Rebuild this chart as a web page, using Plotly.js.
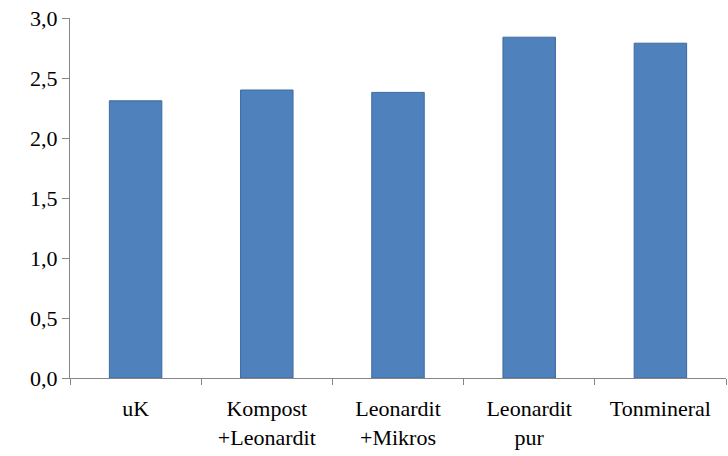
<!DOCTYPE html>
<html>
<head>
<meta charset="utf-8">
<script src="https://cdn.plot.ly/plotly-3.0.1.min.js"></script>
<style>html,body{margin:0;padding:0;background:#fff;}#chart{width:728px;height:456px;}</style>
</head>
<body>
<div id="chart"></div>
<script>
const categories = ["uK", "Kompost<br>+Leonardit", "Leonardit<br>+Mikros", "Leonardit<br>pur", "Tonmineral"];
const values = [2.31, 2.40, 2.38, 2.84, 2.79];
const yTickVals = [0, 0.5, 1.0, 1.5, 2.0, 2.5, 3.0];

const FONT = "Liberation Serif, Times New Roman, Times, serif";

const trace = {
  type: "bar",
  x: categories,
  y: values,
  marker: { color: "#4F81BD", line: { color: "#3D6A9E", width: 1 } },
  hoverinfo: "none"
};

const layout = {
  width: 728,
  height: 456,
  margin: { l: 70, r: 2, t: 18, b: 78 },
  paper_bgcolor: "#fff",
  plot_bgcolor: "#fff",
  separators: ",.",
  bargap: 0.6,
  showlegend: false,
  font: { family: FONT, size: 22, color: "#000" },
  xaxis: {
    type: "category",
    showline: true,
    linecolor: "#868686",
    linewidth: 1,
    ticks: "outside",
    tickson: "boundaries",
    ticklen: 6,
    tickcolor: "#868686",
    showgrid: false,
    zeroline: false,
    ticklabelstandoff: 11,
    tickfont: { family: FONT, size: 22, color: "#000" }
  },
  yaxis: {
    range: [0, 3],
    tickvals: yTickVals,
    tickformat: ".1f",
    showline: true,
    linecolor: "#868686",
    linewidth: 1,
    ticks: "outside",
    ticklen: 7,
    tickcolor: "#868686",
    showgrid: false,
    zeroline: false,
    tickfont: { family: FONT, size: 22, color: "#000" }
  }
};

Plotly.newPlot("chart", [trace], layout, { displayModeBar: false, staticPlot: true });
</script>
</body>
</html>
